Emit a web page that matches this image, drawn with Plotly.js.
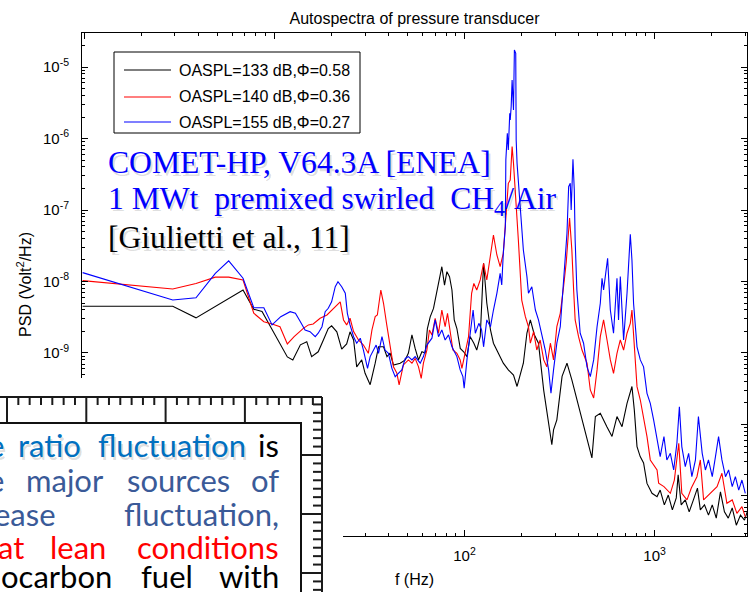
<!DOCTYPE html>
<html><head><meta charset="utf-8">
<script src="https://cdn.plot.ly/plotly-3.0.1.min.js"></script>
<style>html,body{margin:0;padding:0;background:#fff}#chart{width:751px;height:592px}</style>
</head><body><div id="chart"></div>
<script>
// ---------------- data ----------------
const seriesNames = ['OASPL=133 dB,\u03A6=0.58', 'OASPL=140 dB,\u03A6=0.36', 'OASPL=155 dB,\u03A6=0.27'];
const seriesColors = ['#000000', '#FF0000', '#0000FF'];
const xTickVals = [1, 10, 100, 1000];
const xTickText = ['10<sup>0</sup>', '10<sup>1</sup>', '10<sup>2</sup>', '10<sup>3</sup>'];
const yTickVals = [1e-12, 1e-11, 1e-10, 1e-9, 1e-8, 1e-7, 1e-6, 1e-5];
const yTickText = ['10<sup>-12</sup>', '10<sup>-11</sup>', '10<sup>-10</sup>', '10<sup>-9</sup>', '10<sup>-8</sup>', '10<sup>-7</sup>', '10<sup>-6</sup>', '10<sup>-5</sup>'];

const freqBlack = [0.98, 2.92, 3.87, 6.84, 7.79, 8.61, 11.7, 12.5, 13.7, 14.2, 14.8, 15.7, 17.0, 18.1, 19.2, 20.0,
  21.3, 22.6, 24.0, 25.0, 26.1, 27.1, 28.8, 30.0, 31.9, 33.9, 35.3, 37.5, 39.1, 40.6, 42.3, 45.9, 48.8, 50.7, 52.9, 55.0,
  57.3, 59.7, 62.1, 63.8, 66.0, 68.7, 71.6, 73.8, 76.0, 78.5, 80.8, 83.4, 85.9, 88.3, 91.2, 95.0, 99.0, 103, 107, 112,
  116, 121, 126, 131, 137, 142, 151, 160, 170, 181, 189, 196, 204, 213, 222, 233, 245, 261, 271, 288,
  294, 306, 326, 346, 367, 391, 415, 441, 468, 488, 518, 561, 597, 634, 674, 716, 760, 782, 808, 840,
  875, 912, 969, 1030, 1070, 1125, 1180, 1240, 1300, 1330, 1380, 1450, 1520, 1600, 1680, 1740, 1830, 1920, 2010,
  2110, 2220, 2330, 2440, 2560, 2690, 2830, 2970, 3070];
const psdBlack = [4.5e-9, 4.5e-9, 3.1e-9, 7.6e-9, 4.1e-9, 3.8e-9, 8.8e-10, 8.0e-10, 1.3e-9, 1.37e-9, 1.44e-9, 8.9e-10, 1.04e-9, 1.52e-9, 2.2e-9, 2.4e-9,
  1.98e-9, 1.13e-9, 1.34e-9, 1.98e-9, 1.52e-9, 6.4e-10, 8.0e-10, 5.2e-10, 3.6e-10, 7.2e-10, 1.22e-9, 1.22e-9, 8.9e-10, 1.0e-9, 6.8e-10, 7.2e-10, 8.0e-10, 1.0e-9, 1.79e-9, 1.16e-9,
  8.0e-10, 1.04e-9, 1.0e-9, 2.2e-9, 3.2e-9, 4.2e-9, 7.6e-9, 1.11e-8, 1.61e-8, 8.9e-9, 1.37e-8, 1.17e-8, 7.6e-9, 2.9e-9, 2.2e-9, 1.16e-9, 1.04e-9, 8.9e-10, 1.7e-9, 1.37e-9,
  1.1e-9, 1.7e-9, 1.8e-8, 5.0e-9, 2.1e-9, 1.37e-9, 1.0e-9, 7.2e-10, 5.8e-10, 4.9e-10, 3.4e-10, 4.7e-10, 7.2e-10, 1.9e-9, 2.9e-9, 1.8e-9, 1.37e-9, 3.0e-10, 1.6e-10, 5.2e-11,
  8.4e-11, 1.16e-10, 4.7e-10, 7.2e-10, 4.2e-10, 2.2e-10, 1.16e-10, 6.1e-11, 3.4e-11, 1.29e-10, 1.43e-10, 9.3e-11, 6.8e-11, 1.29e-10, 9.3e-11, 1.98e-10, 3.4e-10, 1.6e-10, 4.9e-11, 3.55e-11,
  2.9e-11, 1.5e-11, 1.09e-11, 9.8e-12, 1.21e-11, 7.5e-12, 1.03e-11, 6.4e-12, 9.4e-12, 1.97e-11, 7.5e-12, 8.8e-12, 6.0e-12, 8.8e-12, 1.29e-11, 6.4e-12, 7.5e-12, 5.4e-12, 7.5e-12,
  4.9e-12, 1.14e-11, 6.0e-12, 4.9e-12, 6.8e-12, 3.9e-12, 5.4e-12, 4.6e-12, 6.0e-12];

const freqRed = [0.98, 2.92, 3.87, 4.89, 5.75, 6.84, 7.79, 8.8, 9.72, 10.7,
  11.7, 12.7, 14.2, 15.1, 16.0, 17.4, 18.9, 20.0, 21.3, 22.2,
  23.1, 24.0, 25.0, 26.1, 27.7, 29.4, 31.2, 32.6, 33.9, 34.8,
  36.3, 37.5, 39.0, 40.6, 42.3, 44.1, 45.3, 47.7, 50.7, 52.9,
  55.0, 57.3, 59.2, 60.8, 63.4, 65.4, 67.4, 70.1, 73.0, 76.0,
  79.1, 81.4, 84.1, 86.9, 91.2, 94.9, 96.9, 101, 105, 109,
  112, 116, 121, 126, 131, 137, 142, 148, 154, 160,
  164, 170, 174, 178, 181, 185, 189, 192, 196, 200,
  209, 217, 222, 231, 240, 250, 261, 271, 283, 294,
  306, 319, 332, 343, 357, 367, 375, 382, 398, 415,
  441, 459, 478, 498, 518, 539, 562, 585, 608, 634,
  660, 687, 716, 745, 760, 775, 808, 841, 875, 912,
  949, 1030, 1050, 1120, 1210, 1270, 1340, 1390, 1480, 1560,
  1670, 1740, 1810, 1960, 2130, 2260, 2400, 2560, 2710, 2880, 3000];
const psdRed = [1.03e-8, 7.85e-9, 9.4e-9, 1.15e-8, 1.15e-8, 1.05e-8, 3.6e-9, 2.74e-9, 2.55e-9, 2.33e-9,
  1.34e-9, 1.69e-9, 2.21e-9, 2.47e-9, 2.55e-9, 3.06e-9, 3.4e-9, 3.99e-9, 4.69e-9, 5.2e-9,
  2.9e-9, 2.47e-9, 3.06e-9, 1.99e-9, 1.52e-9, 1.29e-9, 9.9e-10, 2.1e-9, 3.22e-9, 3.4e-9,
  7.6e-9, 4.96e-9, 2.47e-9, 1.22e-9, 6.4e-10, 5.2e-10, 3.57e-10, 6.8e-10, 8.0e-10, 7.2e-10,
  8.4e-10, 6.4e-10, 4.4e-10, 7.2e-10, 1.1e-9, 2.1e-9, 1.79e-9, 3.06e-9, 1.89e-9, 3.99e-9,
  2.33e-9, 3.59e-9, 2.1e-9, 1.1e-9, 9.9e-10, 8.0e-10, 6.1e-10, 1.1e-9, 1.69e-9, 6.84e-9,
  9.4e-9, 7.6e-9, 1.05e-8, 1.8e-8, 1.05e-8, 2.35e-8, 4.47e-8, 2.35e-8, 1.61e-8, 2.48e-8,
  5.84e-8, 2.36e-7, 2.63e-7, 7.7e-7, 4.5e-7, 1.53e-7, 8.06e-8, 3.8e-8, 1.45e-8, 5.5e-9,
  3.22e-9, 2.33e-9, 1.37e-9, 1.99e-9, 1.1e-9, 1.52e-9, 8.0e-10, 6.4e-10, 1.37e-9, 8.0e-10,
  2.33e-9, 3.59e-9, 8.45e-9, 1.88e-8, 7.73e-8, 2.76e-8, 7.6e-9, 2.9e-9, 1.69e-9, 1.1e-9,
  7.2e-10, 3.04e-10, 2.35e-10, 5.8e-10, 1.69e-9, 2.9e-9, 1.52e-9, 8.0e-10, 5.2e-10, 9.9e-10,
  1.52e-9, 1.1e-9, 1.89e-9, 2.6e-9, 3.99e-9, 1.69e-9, 3.38e-10, 2.2e-10, 1.29e-10, 6.75e-11,
  3.19e-11, 2.31e-11, 1.51e-11, 1.35e-11, 1.09e-11, 1.67e-11, 5.46e-11, 1.09e-11, 8.8e-12, 1.29e-11,
  1.86e-11, 3.19e-11, 8.8e-12, 1.09e-11, 1.35e-11, 2.08e-11, 7.9e-12, 8.8e-12, 5.7e-12, 7.1e-12, 5.1e-12];

const freqBlue = [0.98, 2.92, 3.87, 4.89, 5.75, 6.84, 7.79, 8.8, 9.72, 10.8,
  12.1, 12.9, 13.7, 14.5, 15.4, 16.4, 17.0, 17.8, 18.5, 19.2,
  20.0, 20.9, 21.6, 22.6, 23.6, 24.2, 25.0, 26.1, 27.1, 28.3,
  29.4, 30.9, 31.9, 33.2, 34.3, 35.3, 36.8, 38.2, 39.8, 41.5,
  43.2, 44.9, 46.8, 48.8, 50.7, 52.9, 55.0, 58.5, 60.8, 63.4,
  67.4, 70.1, 73.0, 76.0, 79.1, 82.4, 85.9, 91.2, 94.9, 98.1,
  99.6, 103, 107, 111, 114, 119, 123, 126, 131, 137,
  142, 148, 154, 157, 160, 164, 165, 168, 170, 173,
  174, 176, 178, 181, 183, 186, 187, 189, 192, 196,
  200, 204, 213, 217, 226, 236, 245, 256, 266, 277,
  285, 294, 306, 319, 332, 339, 346, 353, 360, 364,
  372, 378, 382, 390, 406, 423, 441, 459, 478, 498,
  518, 529, 539, 566, 585, 608, 621,
  634, 646, 660, 687, 716, 745, 760, 775,
  808, 841, 875, 912, 949, 988, 1030,
  1070, 1120, 1160, 1210, 1260, 1310, 1350, 1390, 1450, 1510,
  1570, 1640, 1700, 1780, 1850, 1920, 2010, 2090, 2170, 2260,
  2360, 2450, 2560, 2660, 2770, 2880, 3000];
const psdBlue = [1.33e-8, 5.5e-9, 5.93e-9, 1.3e-8, 1.94e-8, 1.11e-8, 4.3e-9, 4.3e-9, 2.47e-9, 3.22e-9,
  3.78e-9, 3.59e-9, 2.74e-9, 2.1e-9, 1.99e-9, 1.69e-9, 1.89e-9, 2.33e-9, 3.78e-9, 4.22e-9,
  5.2e-9, 8.45e-9, 9.93e-9, 8.45e-9, 6.84e-9, 3.59e-9, 2.47e-9, 1.69e-9, 1.37e-9, 1.61e-9,
  1.1e-9, 6.1e-10, 8.9e-10, 1.1e-9, 1.29e-9, 9.9e-10, 1.69e-9, 1.1e-9, 9.9e-10, 6.1e-10,
  4.67e-10, 5.2e-10, 5.8e-10, 8.4e-10, 8.9e-10, 8.0e-10, 8.9e-10, 7.2e-10, 8.9e-10, 1.29e-9,
  1.61e-9, 2.9e-9, 1.69e-9, 2.1e-9, 1.52e-9, 1.79e-9, 1.22e-9, 8.9e-10, 5.8e-10, 4.67e-10,
  3.21e-10, 8.0e-10, 1.89e-9, 3.99e-9, 1.89e-9, 2.6e-9, 2.1e-9, 1.22e-9, 2.9e-9, 2.33e-9,
  3.99e-9, 6.84e-9, 1.3e-8, 8.93e-9, 2.48e-8, 5.84e-8, 5.0e-7, 1.18e-6, 6.9e-7, 2.25e-6,
  1.82e-6, 2.79e-6, 6.58e-6, 2.5e-6, 1.73e-5, 1.55e-5, 9.5e-7, 4.5e-7, 2.36e-7, 1.11e-7,
  5.84e-8, 2.76e-8, 1.17e-8, 6.84e-9, 8.45e-9, 3.99e-9, 2.9e-9, 1.69e-9, 1.1e-9, 5.8e-10,
  2.73e-10, 5.8e-10, 1.37e-9, 2.33e-9, 9.4e-9, 2.48e-8, 4.72e-8, 2.12e-7, 2.36e-7, 1.0e-7,
  5.12e-7, 1.9e-7, 3.8e-8, 7.6e-9, 1.89e-9, 1.37e-9, 6.4e-10, 4.67e-10, 8.0e-10, 2.33e-9,
  4.96e-9, 1.11e-8, 7.6e-9, 2.11e-8, 3.99e-9, 1.89e-9, 5.5e-9,
  1.11e-8, 2.9e-9, 1.17e-8, 1.52e-9, 6.84e-9, 4.57e-8, 2.0e-8, 4.96e-9,
  1.22e-9, 8.0e-10, 6.4e-10, 2.73e-10, 1.98e-10, 1.16e-10, 6.07e-11,
  3.55e-11, 6.75e-11, 3.19e-11, 3.95e-11, 2.31e-11, 5.46e-11, 1.77e-10, 4.9e-11, 2.57e-11, 3.95e-11,
  1.86e-11, 3.19e-11, 1.29e-10, 3.95e-11, 2.31e-11, 3.19e-11, 1.86e-11, 3.55e-11, 6.75e-11, 3.19e-11,
  1.86e-11, 2.31e-11, 1.35e-11, 1.86e-11, 1.21e-11, 1.67e-11, 1.09e-11];

// ---------------- geometry helpers (pixel -> paper) ----------------
const W = 751, H = 592, PL = 82, PR = 747, PT = 33, PB = 536;
const px = x => (x - PL) / (PR - PL);
const py = y => (PB - y) / (PB - PT);

const traces = [
  {x: freqBlack, y: psdBlack},
  {x: freqRed, y: psdRed},
  {x: freqBlue, y: psdBlue}
].map((d, i) => ({
  x: d.x, y: d.y, type: 'scatter', mode: 'lines', name: seriesNames[i], showlegend: false,
  line: {color: seriesColors[i], width: 1.1}
}));

// minor tick positions
const minorX = [], minorY = [];
for (let k = 0; k <= 3; k++) for (let m = 2; m <= 9; m++) minorX.push(m * Math.pow(10, k));
for (let k = -12; k <= -5; k++) for (let m = 2; m <= 9; m++) minorY.push(m * Math.pow(10, k));

const sansA = 'Liberation Sans, Arial, sans-serif';
const axisFont = {family: sansA, size: 15, color: '#000'};
const titleFont = {family: sansA, size: 16, color: '#000'};
const baseAxis = {
  type: 'log', showline: true, linecolor: '#000', linewidth: 1, mirror: 'ticks',
  ticks: 'inside', ticklen: 6, tickwidth: 1, tickcolor: '#000', showgrid: false, zeroline: false,
  tickmode: 'array', tickfont: axisFont, automargin: false,
  minor: {ticks: 'inside', ticklen: 3, tickwidth: 1, tickcolor: '#000', showgrid: false}
};

const shapes = [];
const annotations = [];

// ---------------- legend box (drawn above the traces) ----------------
const legBox = {x0: 114, x1: 360, y0: 52, y1: 133};
const legRows = [70, 97, 122];
shapes.push({type: 'rect', xref: 'paper', yref: 'paper', x0: px(legBox.x0), x1: px(legBox.x1), y0: py(legBox.y0), y1: py(legBox.y1),
  fillcolor: '#ffffff', line: {color: '#000', width: 1}, layer: 'above'});
seriesNames.forEach((name, i) => {
  shapes.push({type: 'line', xref: 'paper', yref: 'paper', x0: px(124), x1: px(171), y0: py(legRows[i]), y1: py(legRows[i]),
    line: {color: seriesColors[i], width: 1.1}, layer: 'above'});
  annotations.push({text: name, xref: 'paper', yref: 'paper', x: px(178), y: py(legRows[i]), xanchor: 'left', yanchor: 'middle',
    showarrow: false, borderpad: 0, font: {family: sansA, size: 16, color: '#000'}});
});

// ---------------- overlay (inset box lower-left) ----------------
const lineCol = '#1a1a1a';
shapes.push({type: 'rect', xref: 'paper', yref: 'paper', x0: px(-10), x1: px(343), y0: py(378), y1: py(600),
  fillcolor: '#ffffff', line: {width: 0}, layer: 'above'});
const frameTop = 397, frameRight = 322, innerTop = 423, innerRight = 301;
const topMajor = 79.3;
for (let j = -1; j <= 30; j++) {
  const x = 7 + j * topMajor / 7;
  if (x < -2 || x > frameRight - 3) continue;
  const major = (j % 7 === 0);
  shapes.push({type: 'line', xref: 'paper', yref: 'paper', x0: px(x), x1: px(x), y0: py(frameTop), y1: py(major ? innerTop : frameTop + 8),
    line: {color: lineCol, width: 2}, layer: 'above'});
}
const rightMajor = 59;
for (let j = 1; j <= 30; j++) {
  const y = frameTop - 1 + j * rightMajor / 7;
  if (y > H + 2) continue;
  const major = (j % 7 === 0);
  shapes.push({type: 'line', xref: 'paper', yref: 'paper', x0: px(frameRight), x1: px(major ? innerRight : frameRight - 9), y0: py(y), y1: py(y),
    line: {color: lineCol, width: 2}, layer: 'above'});
}
shapes.push({type: 'line', xref: 'paper', yref: 'paper', x0: px(-10), x1: px(frameRight), y0: py(frameTop), y1: py(frameTop),
  line: {color: lineCol, width: 2}, layer: 'above'});
shapes.push({type: 'line', xref: 'paper', yref: 'paper', x0: px(frameRight), x1: px(frameRight), y0: py(frameTop), y1: py(600),
  line: {color: lineCol, width: 2}, layer: 'above'});
shapes.push({type: 'rect', xref: 'paper', yref: 'paper', x0: px(-10), x1: px(innerRight), y0: py(innerTop), y1: py(610),
  fillcolor: '#ffffff', line: {color: '#111', width: 2}, layer: 'above'});

// ---------------- text annotations ----------------
function addText(text, x, y, xanchor, font, shadow) {
  if (shadow) annotations.push({text, xref: 'paper', yref: 'paper', x: px(x + 2), y: py(y + 2.5), xanchor, yanchor: 'middle',
    showarrow: false, borderpad: 0, font: Object.assign({}, font, {color: 'rgba(0,0,0,0.15)'})});
  annotations.push({text, xref: 'paper', yref: 'paper', x: px(x), y: py(y), xanchor, yanchor: 'middle',
    showarrow: false, borderpad: 0, font});
}
const serif = 'Liberation Serif, Times New Roman, serif';
const blueSerif = {family: serif, size: 31.6, color: '#0000FF'};
const blackSerif = {family: serif, size: 31.6, color: '#000000'};
addText('COMET-HP, V64.3A [ENEA]', 107, 162.5, 'left', blueSerif, true);
addText('1 MWt\u00A0 premixed swirled\u00A0 CH<sub>4</sub>/Air', 107, 200.5, 'left', blueSerif, true);
addText('[Giulietti et al., 11]', 107, 237.5, 'left', blackSerif, true);

const sans = 'Lato, Carlito, Calibri, sans-serif';
const fs = 31;
const cBlue = {family: sans, size: fs, color: '#0070C0'};
const cSlate = {family: sans, size: fs, color: '#3A5A98'};
const cRed = {family: sans, size: fs, color: '#FF0000'};
const cBlack = {family: sans, size: fs, color: '#000000'};
const RJ = 280;
const c1 = 445, c2 = 480, c3 = 513.5, c4 = 546.5, c5 = 575.5;
addText('e', 5, c1, 'right', cBlue, true);
addText('ratio', 16.5, c1, 'left', cBlue, true);
addText('fluctuation', 96.5, c1, 'left', cBlue, true);
addText('is', RJ, c1, 'right', cBlack, false);
addText('e', 5, c2, 'right', cSlate, false);
addText('major', 25, c2, 'left', cSlate, false);
addText('sources', 126, c2, 'left', cSlate, false);
addText('of', RJ, c2, 'right', cSlate, false);
addText('ease', 57, c3, 'right', cSlate, false);
addText('fluctuation,', RJ, c3, 'right', cSlate, false);
addText('at', 25, c4, 'right', cRed, false);
addText('lean', 49, c4, 'left', cRed, false);
addText('conditions', RJ, c4, 'right', cRed, false);
addText('ocarbon', 0, c5, 'left', cBlack, false);
addText('fuel', 140, c5, 'left', cBlack, false);
addText('with', RJ, c5, 'right', cBlack, false);

const layout = {
  width: W, height: H,
  margin: {l: PL, r: W - PR, t: PT, b: H - PB, pad: 0},
  paper_bgcolor: '#ffffff', plot_bgcolor: '#ffffff',
  font: {family: sansA, color: '#000'},
  title: {text: 'Autospectra of pressure transducer', font: titleFont,
    xref: 'paper', x: 0.5, xanchor: 'center', yref: 'container', y: 1 - 18 / H, yanchor: 'middle'},
  xaxis: Object.assign({}, baseAxis, {range: [-0.012, 3.486], tickvals: xTickVals, ticktext: xTickText, ticklabelstandoff: 6,
    minor: Object.assign({}, baseAxis.minor, {tickmode: 'array', tickvals: minorX}),
    title: {text: 'f (Hz)', font: titleFont, standoff: 10}}),
  yaxis: Object.assign({}, baseAxis, {range: [-11.56, -4.524], tickvals: yTickVals, ticktext: yTickText, ticklabelstandoff: 9,
    minor: Object.assign({}, baseAxis.minor, {tickmode: 'array', tickvals: minorY}),
    title: {text: 'PSD (Volt<sup>2</sup>/Hz)', font: titleFont, standoff: 1}}),
  showlegend: false,
  shapes, annotations
};

Plotly.newPlot('chart', traces, layout, {displayModeBar: false, responsive: false});
</script></body></html>
